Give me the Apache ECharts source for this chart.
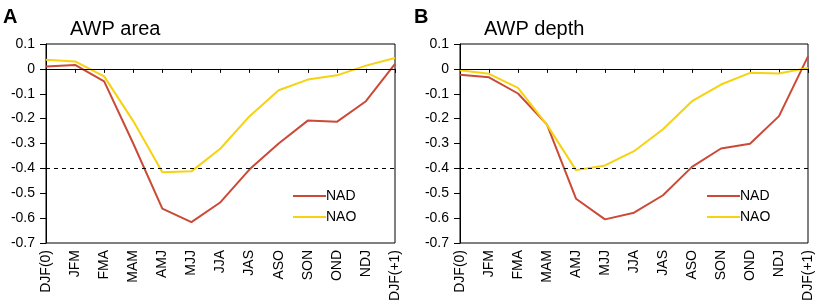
<!DOCTYPE html>
<html>
<head>
<meta charset="utf-8">
<script src="https://cdn.jsdelivr.net/npm/echarts@6/dist/echarts.min.js"></script>
<style>
  html, body { margin: 0; padding: 0; background: #fff; }
  #chart { width: 816px; height: 301px; }
</style>
</head>
<body>
<div id="chart"></div>
<script>
// seasons along the x axis
var seasons = ['DJF(0)', 'JFM', 'FMA', 'MAM', 'AMJ', 'MJJ', 'JJA', 'JAS', 'ASO', 'SON', 'OND', 'NDJ', 'DJF(+1)'];

// panel A: AWP area
var areaNAD = [0.01, 0.016, -0.05, -0.30, -0.562, -0.616, -0.536, -0.404, -0.30, -0.208, -0.213, -0.13, 0.02];
var areaNAO = [0.037, 0.03, -0.03, -0.21, -0.416, -0.412, -0.32, -0.19, -0.086, -0.043, -0.026, 0.013, 0.044];

// panel B: AWP depth
var depthNAD = [-0.024, -0.034, -0.099, -0.224, -0.522, -0.605, -0.578, -0.508, -0.394, -0.32, -0.301, -0.19, 0.05];
var depthNAO = [-0.006, -0.02, -0.076, -0.225, -0.407, -0.388, -0.331, -0.243, -0.13, -0.063, -0.016, -0.019, 0.004];

var RED = '#cb4a37';
var YEL = '#f6d20f';
var font = 'Liberation Sans, Arial, sans-serif';

function xAxis(i) {
    return {
        type: 'category', gridIndex: i, data: seasons, boundaryGap: false,
        axisLine: { lineStyle: { color: '#000', width: 1 } },
        axisTick: { show: true, length: 4, lineStyle: { color: '#000' } },
        axisLabel: { rotate: 90, color: '#000', fontSize: 14, fontFamily: font, margin: 7 },
        splitLine: { show: false }
    };
}
function yAxis(i) {
    return {
        type: 'value', gridIndex: i, min: -0.7, max: 0.1, interval: 0.1,
        axisLine: { show: true, lineStyle: { color: '#000', width: 1 } },
        axisTick: { show: true, length: 6, lineStyle: { color: '#000' } },
        axisLabel: {
            color: '#000', fontSize: 14, fontFamily: font, margin: 11,
            formatter: function (v) { return Math.abs(v) < 1e-9 ? '0' : String(+v.toFixed(1)); }
        },
        splitLine: { show: false }
    };
}
function refLines() {
    return {
        silent: true, symbol: 'none', label: { show: false },
        data: [
            { yAxis: 0, lineStyle: { color: '#000', type: 'solid', width: 1.2 } },
            { yAxis: -0.4, lineStyle: { color: '#000', type: [4, 4], width: 1.2 } }
        ]
    };
}
function line(name, data, color, i, withRef) {
    var s = {
        name: name, type: 'line', data: data, xAxisIndex: i, yAxisIndex: i,
        symbol: 'none', lineStyle: { color: color, width: 2 }, itemStyle: { color: color },
        z: 3
    };
    if (withRef) s.markLine = refLines();
    return s;
}
function legend(left) {
    return {
        orient: 'vertical', left: left, top: 189, padding: 0,
        itemWidth: 33, itemHeight: 14, itemGap: 7,
        icon: 'path://M0,6 L33,6 L33,8 L0,8 Z',
        data: [{ name: 'NAD', itemStyle: { color: RED } }, { name: 'NAO', itemStyle: { color: YEL } }],
        textStyle: { fontSize: 14, fontFamily: font, color: '#000', padding: [0, 0, 0, -5] }
    };
}

var myChart = echarts.init(document.getElementById('chart'));
myChart.setOption({
    backgroundColor: '#fff',
    animation: false,
    title: [
        { text: 'A', left: 3, top: 7, padding: 0, textStyle: { fontSize: 20, fontWeight: 'bold', fontFamily: font, color: '#000' } },
        { text: 'AWP area', left: 70, top: 19, padding: 0, textStyle: { fontSize: 20, fontWeight: 'normal', fontFamily: font, color: '#000' } },
        { text: 'B', left: 414, top: 7, padding: 0, textStyle: { fontSize: 20, fontWeight: 'bold', fontFamily: font, color: '#000' } },
        { text: 'AWP depth', left: 484, top: 19, padding: 0, textStyle: { fontSize: 20, fontWeight: 'normal', fontFamily: font, color: '#000' } }
    ],
    legend: [legend(293), legend(707)],
    grid: [
        { left: 46, top: 44, width: 349, height: 199, show: true, borderColor: '#000', borderWidth: 1, outerBoundsMode: 'none' },
        { left: 460, top: 44, width: 348, height: 199, show: true, borderColor: '#000', borderWidth: 1, outerBoundsMode: 'none' }
    ],
    xAxis: [xAxis(0), xAxis(1)],
    yAxis: [yAxis(0), yAxis(1)],
    series: [
        line('NAD', areaNAD, RED, 0, true),
        line('NAO', areaNAO, YEL, 0, false),
        line('NAD', depthNAD, RED, 1, true),
        line('NAO', depthNAO, YEL, 1, false)
    ]
});
</script>
</body>
</html>
